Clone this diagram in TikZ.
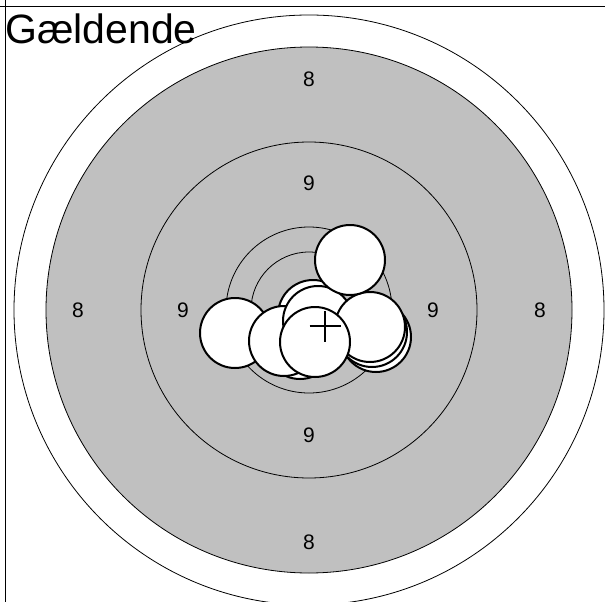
\documentclass[tikz,border=0pt]{standalone}
\usepackage{fontspec}
\setmainfont{Liberation Sans}
\definecolor{ringgray}{RGB}{192,192,192}
\begin{document}
\begin{tikzpicture}[x=1pt,y=-1pt,
  ring/.style={draw=black, line width=0.8pt},
  shot/.style={draw=black, fill=white, line width=2pt},
  lbl/.style={font=\fontsize{21}{21}\selectfont, inner sep=0pt},
  frameline/.style={draw=black, line width=1.6pt}]
\useasboundingbox (0,0) rectangle (605,602);
\clip (0,0) rectangle (605,602);
\fill[white] (0,0) rectangle (605,602);
\coordinate (c) at (309,310);
% target rings
\draw[ring, fill=white] (c) circle[radius=295pt];
\draw[ring, fill=ringgray] (c) circle[radius=263pt];
\draw[ring] (c) circle[radius=168pt];
\draw[ring] (c) circle[radius=83pt];
\draw[ring] (c) circle[radius=58pt];
% ring labels
\node[lbl] (l8t) at (309,79) {8};
\node[lbl] (l8b) at (309,542) {8};
\node[lbl] (l8l) at (78,310) {8};
\node[lbl] (l8r) at (540,310) {8};
\node[lbl] (l9t) at (309,183) {9};
\node[lbl] (l9b) at (309,435) {9};
\node[lbl] (l9l) at (183,310) {9};
\node[lbl] (l9r) at (433,310) {9};
% shots (back to front)
\draw[shot] (313,315) circle[radius=35pt];
\draw[shot] (300,344) circle[radius=35pt];
\draw[shot] (235,333) circle[radius=35pt];
\draw[shot] (284,341) circle[radius=35pt];
\draw[shot] (318,321) circle[radius=35pt];
\draw[shot] (376,337) circle[radius=35pt];
\draw[shot] (372,332) circle[radius=35pt];
\draw[shot] (370,327) circle[radius=35pt];
\draw[shot] (350,260) circle[radius=35pt];
\draw[shot] (315,342) circle[radius=35pt];
% mean point of impact cross
\coordinate (mpi) at (325,326);
\draw[line width=1.3pt] ([xshift=-15.5pt]mpi) -- ([xshift=15.5pt]mpi)
  ([yshift=-15.5pt]mpi) -- ([yshift=15.5pt]mpi);
% frame
\draw[frameline] (0,6.7) -- (605,6.7);
\draw[frameline] (5.3,0) -- (5.3,602);
% title
\node[anchor=base west, inner sep=0pt, font=\fontsize{41}{41}\selectfont] (title) at (5,44) {Gældende};
\end{tikzpicture}
\end{document}
